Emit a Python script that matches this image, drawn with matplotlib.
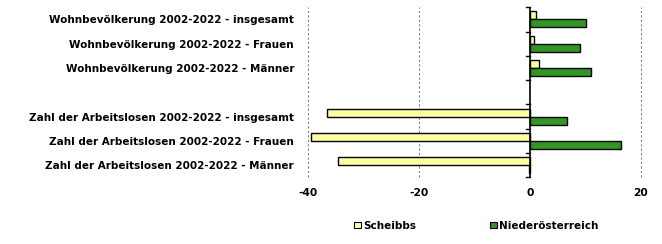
import matplotlib
matplotlib.use("Agg")
import matplotlib.pyplot as plt
import numpy as np
from matplotlib.patches import Patch

categories = [
    "Wohnbevölkerung 2002-2022 - insgesamt",
    "Wohnbevölkerung 2002-2022 - Frauen",
    "Wohnbevölkerung 2002-2022 - Männer",
    "",
    "Zahl der Arbeitslosen 2002-2022 - insgesamt",
    "Zahl der Arbeitslosen 2002-2022 - Frauen",
    "Zahl der Arbeitslosen 2002-2022 - Männer",
]
series_names = ["Scheibbs", "Niederösterreich"]
scheibbs = [1.1, 0.7, 1.6, np.nan, -36.6, -39.5, -34.6]
noe = [10.1, 9.0, 11.0, np.nan, 6.7, 16.4, -0.2]
xticks = [-40, -20, 0, 20]

plt.rcParams['font.family'] = ['DejaVu Sans']
plt.rcParams['font.weight'] = 'bold'

fig = plt.figure(figsize=(6.62, 2.44), dpi=100)
ax = fig.add_axes([308/662, 1-177.3/244, (641-308)/662, (177.3-7.3)/244])

n = len(categories)
y = np.arange(n)
h = 0.33
col_s = "#FFFF99"
col_n = "#2E991E"
ax.barh(y - h/2, scheibbs, height=h, color=col_s, edgecolor="black", linewidth=1.0, zorder=3)
ax.barh(y + h/2, noe, height=h, color=col_n, edgecolor="black", linewidth=1.0, zorder=3)

ax.set_xlim(-40, 20)
ax.set_ylim(n - 0.5, -0.5)
ax.set_xticks(xticks)
ax.set_xticklabels([str(v) for v in xticks], fontsize=7.7, fontweight='bold')
ax.tick_params(axis='x', length=0, pad=7.5)
ax.set_yticks(y)
ax.set_yticklabels(categories, fontsize=7.5, fontweight='bold')
ax.tick_params(axis='y', length=0, pad=10)
for s in ax.spines.values():
    s.set_visible(False)
for v in xticks:
    if v != 0:
        ax.axvline(v, color="#808080", linestyle=(0, (2, 2)), linewidth=0.8, zorder=1, clip_on=False)
ax.axvline(0, color="black", linewidth=1.2, zorder=4)
# ticks on the zero line at category boundaries
for b in np.arange(-0.5, n, 1.0):
    ax.plot([-0.7, 0], [b, b], color="black", linewidth=1.0, zorder=4, clip_on=False)

handles = [Patch(facecolor=col_s, edgecolor="black", linewidth=0.8),
           Patch(facecolor=col_n, edgecolor="black", linewidth=0.8)]
fig.legend(handles, series_names, loc="center", bbox_to_anchor=(476.5/662, 1-225.7/244),
           ncol=2, frameon=False, prop={'weight': 'bold', 'size': 7.5},
           handlelength=0.6, handleheight=0.6, handletextpad=0.25, columnspacing=7.1,
           borderaxespad=0, borderpad=0)

fig.savefig("out.png", dpi=100)
